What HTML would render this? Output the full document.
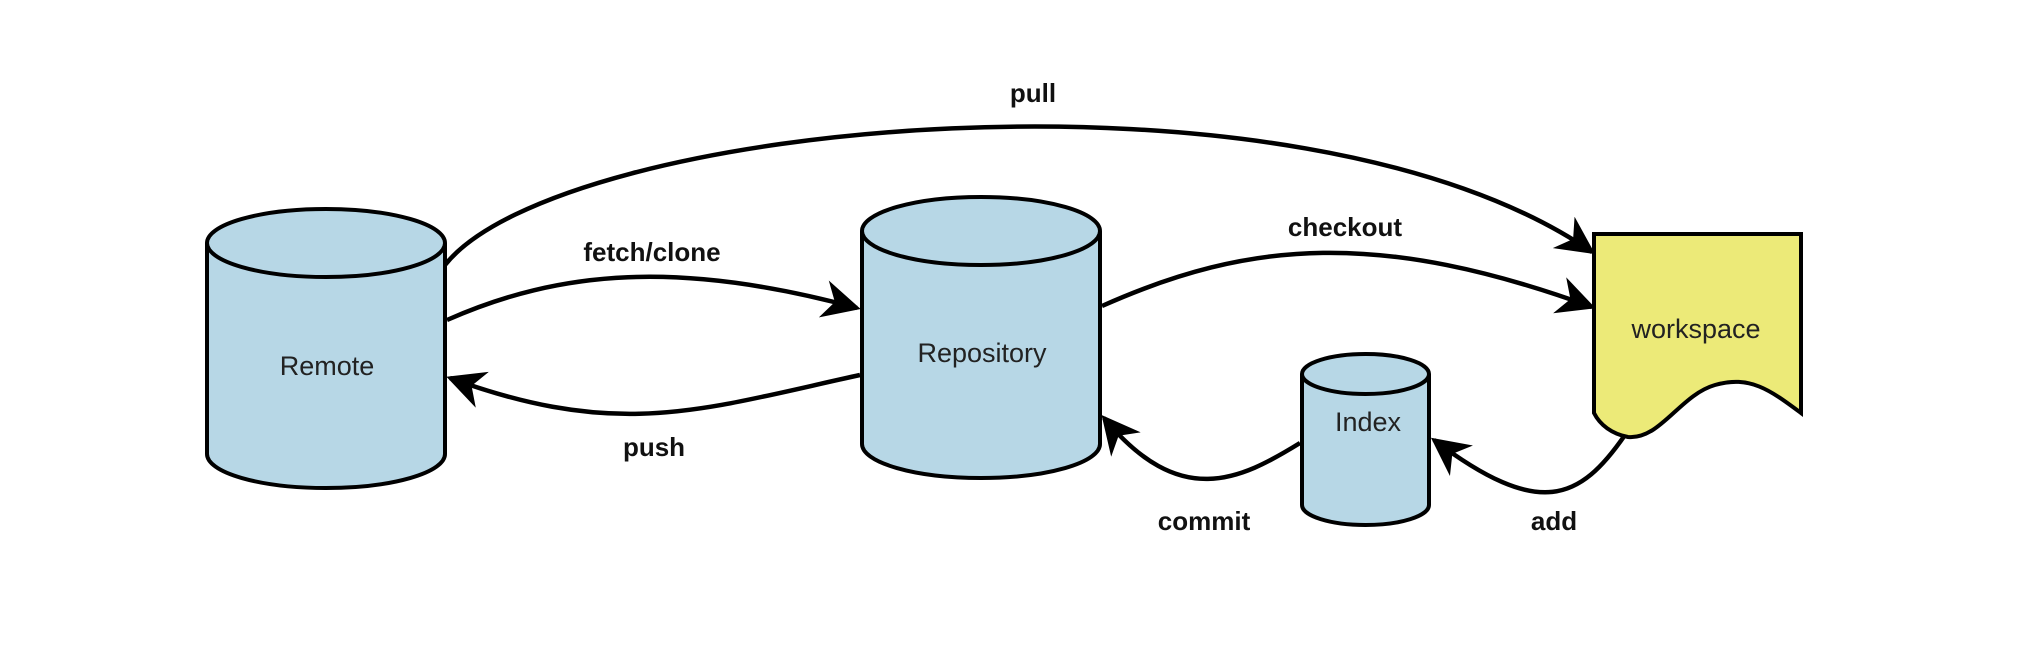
<!DOCTYPE html>
<html><head><meta charset="utf-8"><style>
html,body{margin:0;padding:0;background:#fff;}
svg{display:block;}
text{font-family:"Liberation Sans",Arial,sans-serif;}
.l{font-weight:bold;font-size:26px;fill:#111;text-anchor:middle;}
.n{font-size:27px;fill:#222;text-anchor:middle;}
</style></head><body>
<svg width="2024" height="652" viewBox="0 0 2024 652" xmlns="http://www.w3.org/2000/svg">
<defs>
<marker id="a" viewBox="0 0 10 10" refX="9" refY="5" markerWidth="8.5" markerHeight="8.5" orient="auto" markerUnits="strokeWidth">
<path d="M0,0 L10,5 L0,10 L3,5 z" fill="#000"/>
</marker>
</defs>
<g fill="none" stroke="#000" stroke-width="4.5" marker-end="url(#a)">
<path d="M445,265 C560,120 1300,50 1592,252"/>
<path d="M447,320 C560,270 680,260 857,308"/>
<path d="M860,375 C700,410 620,440 450,378"/>
<path d="M1102,306 C1250,240 1380,230 1592,307"/>
<path d="M1300,443 C1240,480 1180,510 1104,418"/>
<path d="M1625,435 C1580,500 1540,520 1434,440"/>
</g>
<g stroke="#000" stroke-width="4" fill="#b7d7e6">
<path d="M207,243 L207,454 A119,34 0 0 0 445,454 L445,243"/>
<ellipse cx="326" cy="243" rx="119" ry="34"/>
<path d="M862,231 L862,444 A119,34 0 0 0 1100,444 L1100,231"/>
<ellipse cx="981" cy="231" rx="119" ry="34"/>
<path d="M1302,374 L1302,505 A63.5,20 0 0 0 1429,505 L1429,374"/>
<ellipse cx="1365.5" cy="374" rx="63.5" ry="20"/>
<path d="M1594,234 L1801,234 L1801,413 C1770,390 1750,375 1715,385 C1680,395 1660,440 1628,437 C1612,434 1600,425 1594,413 Z" fill="#ecea78"/>
</g>
<text class="n" x="327" y="375">Remote</text>
<text class="n" x="982" y="362">Repository</text>
<text class="n" x="1368" y="431">Index</text>
<text class="n" x="1696" y="338">workspace</text>
<text class="l" x="1033" y="102">pull</text>
<text class="l" x="652" y="261">fetch/clone</text>
<text class="l" x="1345" y="236">checkout</text>
<text class="l" x="654" y="456">push</text>
<text class="l" x="1204" y="530">commit</text>
<text class="l" x="1554" y="530">add</text>
</svg>
</body></html>
